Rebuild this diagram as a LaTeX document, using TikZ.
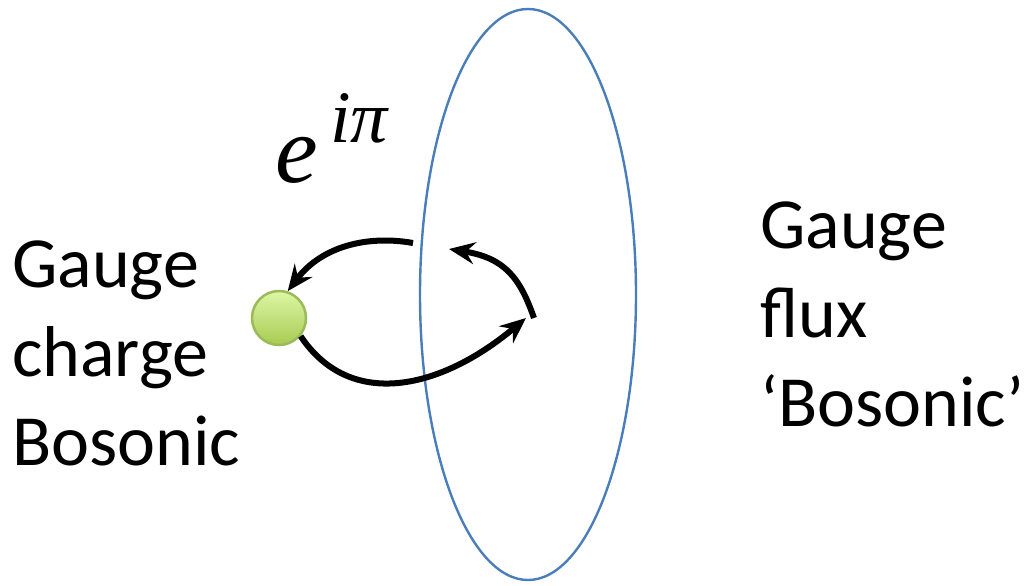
\documentclass[tikz,border=0pt]{standalone}
\usepackage{fontspec}
\setmainfont{Carlito}
\newfontfamily\phasefont{Liberation Serif}
\usetikzlibrary{arrows.meta}
\definecolor{ellblue}{HTML}{4A7EBB}
\definecolor{balltop}{HTML}{DDF7A6}
\definecolor{ballbot}{HTML}{A8CB52}
\definecolor{ballrim}{HTML}{9BBB59}
\tikzset{
  arr/.style={line width=6pt, -{Stealth[length=26pt,width=22pt,inset=9pt]}},
  lbl/.style={font=\fontsize{72}{89}\selectfont, align=left, inner sep=0pt},
}
\begin{document}
\begin{tikzpicture}[x=1pt,y=-1pt]
\useasboundingbox (0,0) rectangle (1031,586);
% flux loop
\draw[ellblue, line width=2.4pt] (528,294.5) ellipse [x radius=108, y radius=285.5];
% charge
\node[circle, minimum size=54pt, inner sep=0pt, draw=ballrim, line width=2.5pt,
      top color=balltop, bottom color=ballbot] (ball) at (279,318) {};
% free ends
\coordinate (a1) at (413,243);
\coordinate (b1) at (534,318);
\coordinate (b2) at (449,249);
\coordinate (c2) at (526,318);
% arrows
\draw[arr] (a1) .. controls (368,235) and (322,246) .. (ball.72);
\draw[arr] (b1) .. controls (520,278) and (505,258) .. (b2);
\draw[arr] (ball.-40) .. controls (350,410) and (440,390) .. (c2);
% labels
\node[lbl, anchor=base west] (lt) at (12,465) {Gauge\\charge\\Bosonic};
\node[lbl, anchor=base west] (rt) at (760,426) {Gauge\\flux\\‘Bosonic’};
\node[inner sep=0pt, anchor=base west, font=\phasefont\itshape\fontsize{96}{96}\selectfont] (phase) at (275,182) {e};
\node[inner sep=0pt, anchor=base west, font=\phasefont\itshape\fontsize{74}{74}\selectfont] (sup) at (330,142) {iπ};
\end{tikzpicture}
\end{document}
